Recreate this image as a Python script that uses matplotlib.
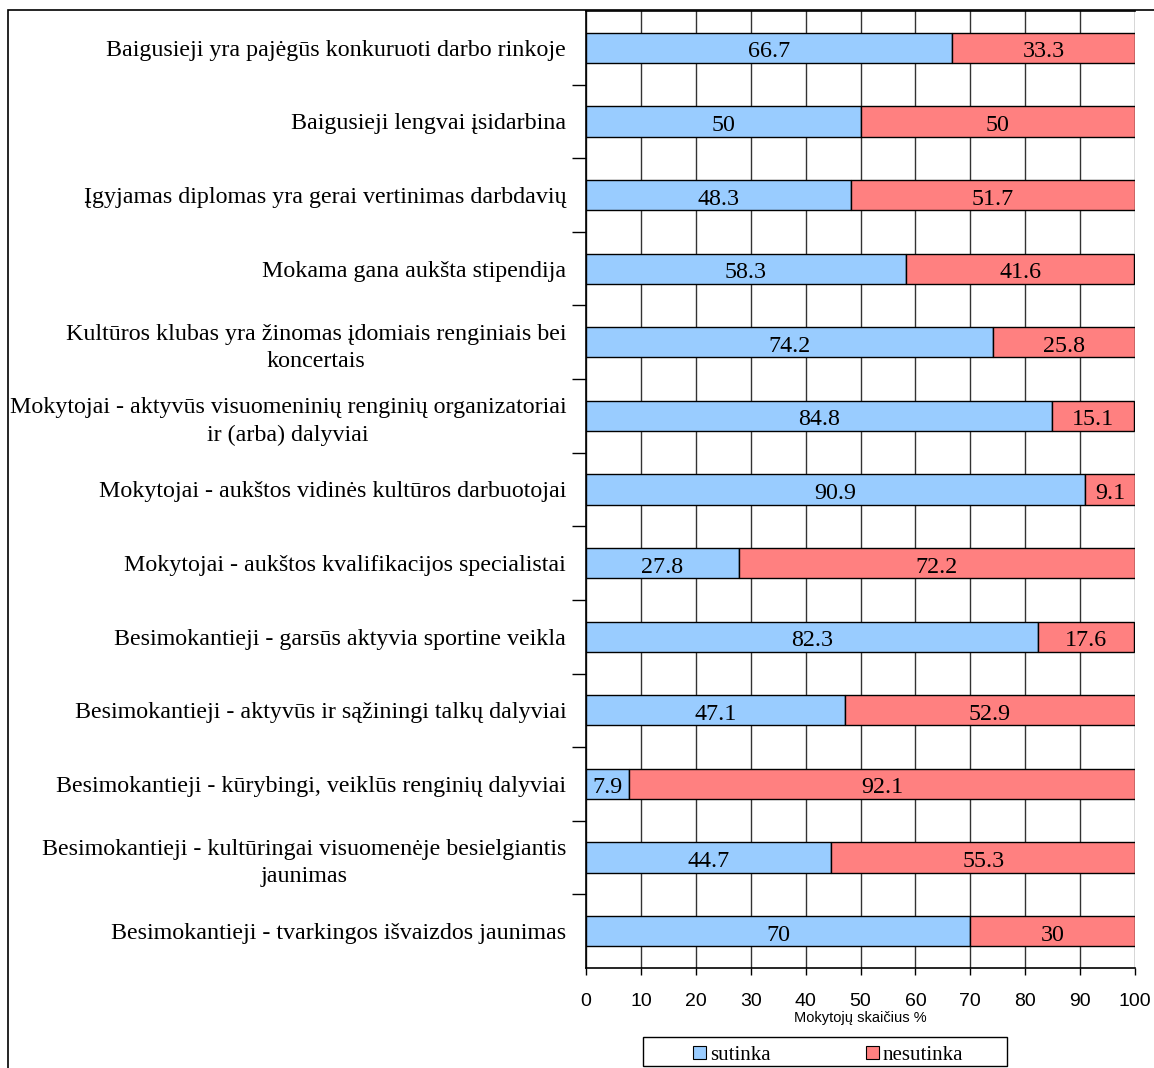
import matplotlib
matplotlib.use("Agg")
import matplotlib.pyplot as plt
from matplotlib.patches import Rectangle

categories = [
    "Baigusieji yra pajėgūs konkuruoti darbo rinkoje",
    "Baigusieji lengvai įsidarbina",
    "Įgyjamas diplomas yra gerai vertinimas darbdavių",
    "Mokama gana aukšta stipendija",
    "Kultūros klubas yra žinomas įdomiais renginiais bei\nkoncertais",
    "Mokytojai - aktyvūs visuomeninių renginių organizatoriai\nir (arba) dalyviai",
    "Mokytojai - aukštos vidinės kultūros darbuotojai",
    "Mokytojai - aukštos kvalifikacijos specialistai",
    "Besimokantieji - garsūs aktyvia sportine veikla",
    "Besimokantieji - aktyvūs ir sąžiningi talkų dalyviai",
    "Besimokantieji - kūrybingi, veiklūs renginių dalyviai",
    "Besimokantieji - kultūringai visuomenėje besielgiantis\njaunimas",
    "Besimokantieji - tvarkingos išvaizdos jaunimas",
]
sutinka = [66.7, 50, 48.3, 58.3, 74.2, 84.8, 90.9, 27.8, 82.3, 47.1, 7.9, 44.7, 70]
nesutinka = [33.3, 50, 51.7, 41.6, 25.8, 15.1, 9.1, 72.2, 17.6, 52.9, 92.1, 55.3, 30]
series_names = ["sutinka", "nesutinka"]
x_ticks = [0, 10, 20, 30, 40, 50, 60, 70, 80, 90, 100]
x_label = "Mokytojų skaičius %"

W, H = 1154, 1068
fig = plt.figure(figsize=(W / 100, H / 100), dpi=100)
ax = fig.add_axes([586 / W, 1 - 968 / H, (1135 - 586) / W, (968 - 11) / H])

serif = "Liberation Serif"
sans = "Liberation Sans"
blue = "#99CCFF"
red = "#FF8080"
colors = [blue, red]

# outer chart frame (runs past the right and bottom edges)
fig.patches.append(Rectangle((8 / W, -0.1), 1.2, 1.1 - 10 / H, transform=fig.transFigure,
                             fill=False, edgecolor="black", linewidth=1.2, zorder=0))

ypos = list(range(len(categories)))
bh = 0.41
ax.barh(ypos, sutinka, height=bh, color=blue, edgecolor="black", linewidth=1.0, zorder=3)
ax.barh(ypos, nesutinka, left=sutinka, height=bh, color=red, edgecolor="black", linewidth=1.0, zorder=3)

for y, a, b in zip(ypos, sutinka, nesutinka):
    ax.text(a / 2, y + 0.02, f"{a:g}", ha="center", va="center_baseline", fontsize=17.3,
            family=serif, zorder=4)
    ax.text(a + b / 2, y + 0.02, f"{b:g}", ha="center", va="center_baseline", fontsize=17.3,
            family=serif, zorder=4)

ax.set_xlim(0, 100)
ax.set_ylim(len(categories) - 0.5, -0.5)
ax.set_xticks(x_ticks)
ax.set_xticklabels([str(t) for t in x_ticks], family=sans, fontsize=14)
ax.tick_params(axis="x", direction="out", length=5, width=1, pad=13, color="black")
ax.grid(axis="x", color="#333333", linewidth=1.0, zorder=1)
ax.set_axisbelow(True)

# category boundaries as y ticks; the category names are placed as text
ax.set_yticks([i + 0.5 for i in range(len(categories) - 1)])
ax.set_yticklabels([])
ax.tick_params(axis="y", direction="out", length=10, width=1, color="black")
for y, c in zip(ypos, categories):
    ax.text(-3.6, y, c, ha="right", va="center_baseline", multialignment="center",
            fontsize=17.3, family=serif, linespacing=1.4)

for s in ["left", "bottom", "top"]:
    ax.spines[s].set_color("black")
    ax.spines[s].set_linewidth(1.2)
ax.spines["right"].set_visible(False)

ax.set_xlabel(x_label, family=sans, fontsize=10.5, labelpad=1)

# legend box below the axis
def fx(px):
    return px / W

def fy(py):
    return 1 - py / H

fig.patches.append(Rectangle((fx(643), fy(1066)), fx(1007) - fx(643), fy(1037) - fy(1066),
                             transform=fig.transFigure, fill=False, edgecolor="black",
                             linewidth=1.0))
for name, col, x0 in zip(series_names, colors, [693, 866]):
    fig.patches.append(Rectangle((fx(x0), fy(1059)), 13 / W, 13 / H, transform=fig.transFigure,
                                 facecolor=col, edgecolor="black", linewidth=0.8))
    fig.text(fx(x0 + 17), fy(1053), name, ha="left", va="center_baseline",
             family=serif, fontsize=15)

fig.savefig("out.png", dpi=100)
